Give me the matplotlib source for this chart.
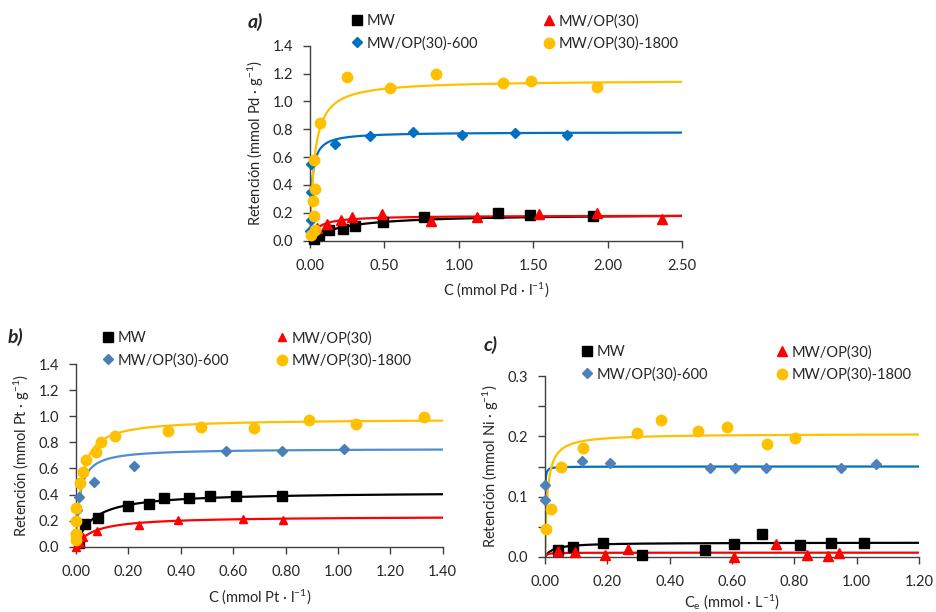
import numpy as np
import matplotlib
matplotlib.use("Agg")
import matplotlib.pyplot as plt
from matplotlib.lines import Line2D
from matplotlib.ticker import MultipleLocator, FormatStrFormatter

plt.rcParams["font.family"] = ["Lato", "DejaVu Sans"]
plt.rcParams["mathtext.default"] = "regular"

labels = ["MW", "MW/OP(30)", "MW/OP(30)-600", "MW/OP(30)-1800"]

# ---- a) Pd ----
a_mw_x = [0.027, 0.06, 0.13, 0.224, 0.305, 0.488, 0.766, 1.261, 1.481, 1.904]
a_mw_y = [0.01, 0.04, 0.077, 0.086, 0.108, 0.132, 0.168, 0.196, 0.184, 0.177]
a_op_x = [0.049, 0.116, 0.208, 0.284, 0.482, 0.811, 1.125, 1.539, 1.927, 2.363]
a_op_y = [0.093, 0.12, 0.148, 0.172, 0.19, 0.144, 0.168, 0.19, 0.2, 0.156]
a_600_x = [0.0, 0.004, 0.005, 0.007, 0.17, 0.405, 0.692, 1.021, 1.378, 1.725]
a_600_y = [0.072, 0.148, 0.347, 0.548, 0.694, 0.751, 0.778, 0.756, 0.775, 0.761]
a_1800_x = [0.004, 0.031, 0.025, 0.02, 0.036, 0.027, 0.067, 0.246, 0.54, 0.845, 1.295, 1.483, 1.929]
a_1800_y = [0.038, 0.077, 0.177, 0.282, 0.371, 0.579, 0.847, 1.177, 1.094, 1.199, 1.129, 1.144, 1.101]
# Langmuir fit parameters (qmax, K)
a_qmax = [0.193, 0.1816, 0.78, 1.153]
a_K = [4.67, 20, 80, 35]

# ---- b) Pt ----
b_mw_x = [0.01, 0.034, 0.083, 0.199, 0.277, 0.335, 0.431, 0.513, 0.612, 0.787]
b_mw_y = [0.03, 0.174, 0.222, 0.314, 0.327, 0.371, 0.376, 0.391, 0.391, 0.386]
b_op_x = [0.0, 0.015, 0.025, 0.081, 0.242, 0.39, 0.638, 0.789]
b_op_y = [0.0, 0.03, 0.077, 0.123, 0.166, 0.205, 0.212, 0.204]
b_600_x = [0.003, 0.011, 0.069, 0.223, 0.573, 0.788, 1.025]
b_600_y = [0.281, 0.383, 0.498, 0.621, 0.736, 0.733, 0.746]
b_1800_x = [0.0, 0.0, 0.0, 0.0, 0.0, 0.015, 0.027, 0.037, 0.078, 0.094, 0.15,
            0.353, 0.477, 0.68, 0.888, 1.07, 1.33]
b_1800_y = [0.05, 0.1, 0.2, 0.3, 0.097, 0.485, 0.575, 0.664, 0.723, 0.805, 0.85,
            0.886, 0.917, 0.909, 0.971, 0.937, 0.991]
b_qmax = [0.42, 0.233, 0.752, 0.98]
b_K = [16, 15, 70, 50]

# ---- c) Ni ----
c_mw_x = [0.043, 0.089, 0.187, 0.312, 0.512, 0.607, 0.695, 0.818, 0.919, 1.025]
c_mw_y = [0.0116, 0.017, 0.0227, 0.0028, 0.0116, 0.0215, 0.038, 0.02, 0.024, 0.024]
c_op_x = [0.043, 0.095, 0.191, 0.266, 0.605, 0.741, 0.84, 0.908, 0.943]
c_op_y = [0.0105, 0.0077, 0.004, 0.0138, 0.0, 0.021, 0.003, 0.002, 0.007]
c_600_x = [0.001, 0.001, 0.119, 0.21, 0.528, 0.609, 0.708, 0.95, 1.063]
c_600_y = [0.119, 0.095, 0.159, 0.155, 0.147, 0.147, 0.147, 0.148, 0.154]
c_1800_x = [0.003, 0.02, 0.05, 0.121, 0.295, 0.372, 0.49, 0.584, 0.711, 0.802]
c_1800_y = [0.047, 0.08, 0.15, 0.181, 0.206, 0.227, 0.209, 0.215, 0.188, 0.197]
c_qmax = [0.024, 0.0072, 0.15, 0.2043]
c_K = [39, 200, 2500, 130]

markers = ["s", "^", "D", "o"]
msize = [7, 7, 5.5, 7.5]
pt_colors = ["#000000", "#FF0000", "#0070C0", "#FFC000"]
line_colors = ["#000000", "#FF0000", "#0070C0", "#FFC000"]
TXT = "#262626"


def langmuir(c, qm, k):
    return qm * k * c / (1 + k * c)


def panel(ax, xs, ys, qmax, K, xmax, ymax, pcol, lcol, msz):
    c = np.concatenate([[0], np.geomspace(1e-5, xmax, 600)])
    for i in range(4):
        ax.plot(c, langmuir(c, qmax[i], K[i]), color=lcol[i], lw=1.6, zorder=2)
    for i in range(4):
        ax.plot(xs[i], ys[i], linestyle="none", marker=markers[i], ms=msz[i],
                color=pcol[i], mec=pcol[i], zorder=3, clip_on=False)
    ax.set_xlim(0, xmax)
    ax.set_ylim(0, ymax)
    for s in ["top", "right"]:
        ax.spines[s].set_visible(False)
    for s in ["left", "bottom"]:
        ax.spines[s].set_color("#404040")
        ax.spines[s].set_linewidth(1.0)
    ax.tick_params(direction="out", length=5, width=1, color="#404040",
                   labelsize=10.5, labelcolor=TXT)
    ax.tick_params(axis="x", pad=8)
    ax.tick_params(axis="y", pad=7)
    ax.xaxis.set_major_formatter(FormatStrFormatter("%.2f"))
    ax.yaxis.set_major_formatter(FormatStrFormatter("%.1f"))


def legend(fig, x1, x2, ytop, pcol, msz):
    h = [Line2D([], [], linestyle="none", marker=markers[i], ms=msz[i],
                color=pcol[i]) for i in range(4)]
    kw = dict(frameon=False, fontsize=10.5, handlelength=0.8, handletextpad=0.3,
              borderpad=0, borderaxespad=0, labelspacing=0.55, loc="upper left",
              labelcolor=TXT)
    fig.legend([h[0], h[2]], [labels[0], labels[2]],
               bbox_to_anchor=(x1 / 937, 1 - ytop / 612), **kw)
    fig.legend([h[1], h[3]], [labels[1], labels[3]],
               bbox_to_anchor=(x2 / 937, 1 - ytop / 612), **kw)


fig = plt.figure(figsize=(9.37, 6.12), dpi=100)

ax_a = fig.add_axes([310 / 937, 1 - 240.7 / 612, 372 / 937, 195 / 612])
ax_b = fig.add_axes([76 / 937, 1 - 546.7 / 612, 366.7 / 937, 182.7 / 612])
ax_c = fig.add_axes([545 / 937, 1 - 557 / 612, 374 / 937, 181 / 612])

panel(ax_a, [a_mw_x, a_op_x, a_600_x, a_1800_x], [a_mw_y, a_op_y, a_600_y, a_1800_y],
      a_qmax, a_K, 2.5, 1.4, pt_colors, line_colors, msize)
ax_a.xaxis.set_major_locator(MultipleLocator(0.5))
ax_a.yaxis.set_major_locator(MultipleLocator(0.2))
ax_a.set_xlabel("C (mmol Pd · l$^{-1}$)", fontsize=10.5, labelpad=5, color=TXT)
ax_a.set_ylabel("Retención (mmol Pd · g$^{-1}$)", fontsize=10.5, labelpad=5, color=TXT)

b_pcol = ["#000000", "#FF0000", "#4A7EBB", "#FFC000"]
b_lcol = ["#000000", "#FF0000", "#4F8FD0", "#FFC000"]
panel(ax_b, [b_mw_x, b_op_x, b_600_x, b_1800_x], [b_mw_y, b_op_y, b_600_y, b_1800_y],
      b_qmax, b_K, 1.4, 1.4, b_pcol, b_lcol, [7, 5.5, 5.5, 7.5])
ax_b.xaxis.set_major_locator(MultipleLocator(0.2))
ax_b.yaxis.set_major_locator(MultipleLocator(0.2))
ax_b.set_xlabel("C (mmol Pt · l$^{-1}$)", fontsize=10.5, labelpad=6, color=TXT)
ax_b.set_ylabel("Retención (mmol Pt · g$^{-1}$)", fontsize=10.5, labelpad=5, color=TXT)

c_pcol = ["#000000", "#FF0000", "#4F81BD", "#FFC000"]
c_lcol = ["#000000", "#FF0000", "#0070C0", "#FFC000"]
panel(ax_c, [c_mw_x, c_op_x, c_600_x, c_1800_x], [c_mw_y, c_op_y, c_600_y, c_1800_y],
      c_qmax, c_K, 1.2, 0.3, c_pcol, c_lcol, [7, 7, 5.5, 7.5])
ax_c.xaxis.set_major_locator(MultipleLocator(0.2))
ax_c.yaxis.set_major_locator(MultipleLocator(0.1))
ax_c.yaxis.set_minor_locator(MultipleLocator(0.05))
ax_c.tick_params(axis="y", which="minor", direction="out", length=5, width=1,
                 color="#404040")
ax_c.set_xlabel("C$_e$ (mmol · L$^{-1}$)", fontsize=10.5, labelpad=3, color=TXT)
ax_c.set_ylabel("Retención (mmol Ni · g$^{-1}$)", fontsize=10.5, labelpad=5, color=TXT)

legend(fig, 351, 543, 14, pt_colors, msize)
legend(fig, 102, 276, 331, b_pcol, [7, 5.5, 5.5, 7.5])
legend(fig, 581, 776, 345, c_pcol, [7, 7, 5.5, 7.5])

fig.text(248, 612 - 22, "a)", fontsize=14, fontweight="bold", fontstyle="italic",
         transform=None, va="center", color=TXT)
fig.text(8, 612 - 337, "b)", fontsize=14, fontweight="bold", fontstyle="italic",
         transform=None, va="center", color=TXT)
fig.text(484, 612 - 345, "c)", fontsize=14, fontweight="bold", fontstyle="italic",
         transform=None, va="center", color=TXT)

fig.savefig("out.png", dpi=100)
